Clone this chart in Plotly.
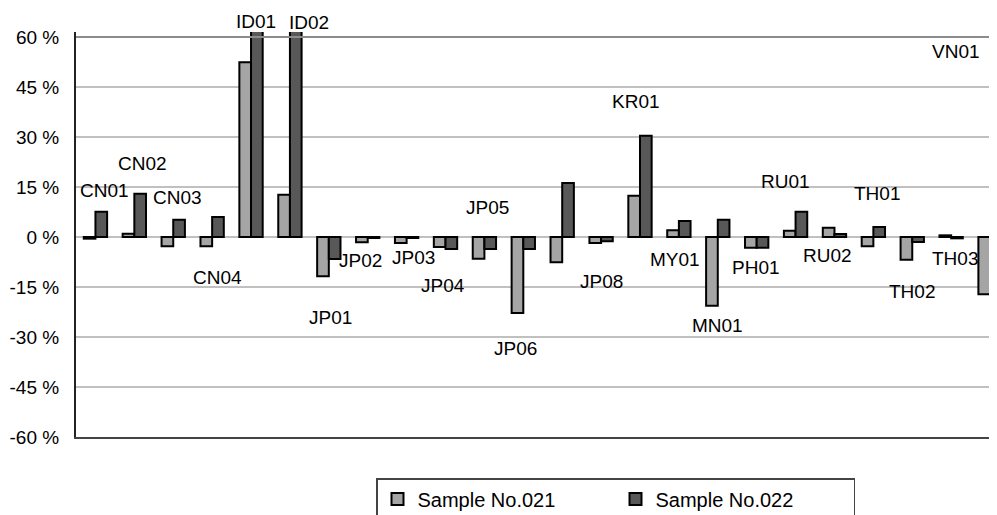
import plotly.graph_objects as go

categories = ["CN01", "CN02", "CN03", "CN04", "ID01", "ID02", "JP01", "JP02",
              "JP03", "JP04", "JP05", "JP06", "JP07", "JP08", "KR01", "MY01",
              "MN01", "PH01", "RU01", "RU02", "TH01", "TH02", "TH03", "VN01"]
sample_021 = [-0.5, 1.0, -2.8, -2.8, 52.4, 12.7, -11.8, -1.6,
              -1.8, -3.0, -6.5, -22.8, -7.6, -1.8, 12.4, 2.0,
              -20.6, -3.2, 1.9, 2.8, -2.8, -6.8, 0.5, -17.2]
sample_022 = [7.6, 13.0, 5.2, 6.0, 75.0, 75.0, -6.6, -0.3,
              -0.3, -3.6, -3.6, -3.6, 16.2, -1.3, 30.4, 4.8,
              5.2, -3.2, 7.6, 0.9, 3.0, -1.5, -0.4, 75.0]
series_names = ["Sample No.021", "Sample No.022"]
tick_values = [60, 45, 30, 15, 0, -15, -30, -45, -60]
tick_labels = ["60 %", "45 %", "30 %", "15 %", "0 %", "-15 %", "-30 %", "-45 %", "-60 %"]

# label placement (category offset, y in %) -- layout, not data
label_text = ["CN01", "CN02", "CN03", "CN04", "ID01", "ID02", "JP01", "JP02",
              "JP03", "JP04", "JP05", "JP06", "", "JP08", "KR01", "MY01",
              "MN01", "PH01", "RU01", "RU02", "TH01", "TH02", "TH03", "VN01"]
label_dx = [0.24, 0.22, 0.12, 0.14, 0.12, 0.5, 0.04, -0.19,
            0.17, -0.06, 0.09, -0.19, 0, 0.01, -0.09, -0.09,
            -0.01, -0.01, -0.27, -0.17, 0.09, -0.01, 0.09, -0.87]
label_y = [13.9, 22.0, 11.8, -12.2, 64.6, 64.3, -24.2, -7.1,
           -6.2, -14.6, 8.8, -33.5, 0, -13.4, 40.6, -6.8,
           -26.6, -9.2, 16.6, -5.6, 13.0, -16.4, -6.5, 55.6]

YMIN, YMAX = -60, 61.5
FONT = "Liberation Sans, Arial, sans-serif"
W, H = 1005, 507  # page body has an 8px margin; plot runs past the right edge

fig = go.Figure()
fig.add_trace(go.Bar(x=list(range(len(categories))), y=sample_021, name=series_names[0],
                     marker=dict(color="#a5a5a5", line=dict(color="#000000", width=2)),
                     hovertext=categories))
fig.add_trace(go.Bar(x=list(range(len(categories))), y=sample_022, name=series_names[1],
                     marker=dict(color="#585858", line=dict(color="#000000", width=2)),
                     hovertext=categories))

for i, t in enumerate(label_text):
    if not t:
        continue
    fig.add_annotation(x=i + label_dx[i], xref="x",
                       y=(label_y[i] - YMIN) / (YMAX - YMIN), yref="paper",
                       xanchor="center", yanchor="middle",
                       text=t, showarrow=False,
                       font=dict(family=FONT, size=19, color="#000000"))

fig.add_shape(type="line", xref="paper", yref="y", x0=0, x1=1, y0=60, y1=60,
              line=dict(color="#8c8c8c", width=2), layer="above")

fig.update_layout(
    width=W, height=H,
    margin=dict(l=68, r=0, t=24, b=78, autoexpand=False),
    paper_bgcolor="white", plot_bgcolor="white",
    barmode="group", bargap=0.4, bargroupgap=0,
    font=dict(family=FONT, size=19, color="#000000"),
    showlegend=True,
    legend=dict(orientation="h", xref="container", yref="container",
                x=368 / W, xanchor="left", y=1 - 470 / H, yanchor="top",
                bordercolor="#444444", borderwidth=1.5, bgcolor="white",
                font=dict(family=FONT, size=20, color="#000000"),
                entrywidth=193, traceorder="normal"),
    xaxis=dict(range=[-0.5, 23.59], showticklabels=False, ticks="",
               showgrid=False, zeroline=False, showline=True,
               linecolor="#444444", linewidth=2),
    yaxis=dict(range=[YMIN, YMAX], tickvals=tick_values, ticktext=tick_labels,
               showgrid=True, gridcolor="#c0c0c0", gridwidth=1.5,
               zeroline=False, showline=True, linecolor="#222222", linewidth=2,
               ticks="", ticklabelstandoff=11,
               tickfont=dict(family=FONT, size=19, color="#000000")),
)

fig.write_html(
    "out.html",
    post_script="document.documentElement.style.overflow='hidden';"
                "document.body.style.overflow='hidden';",
)
